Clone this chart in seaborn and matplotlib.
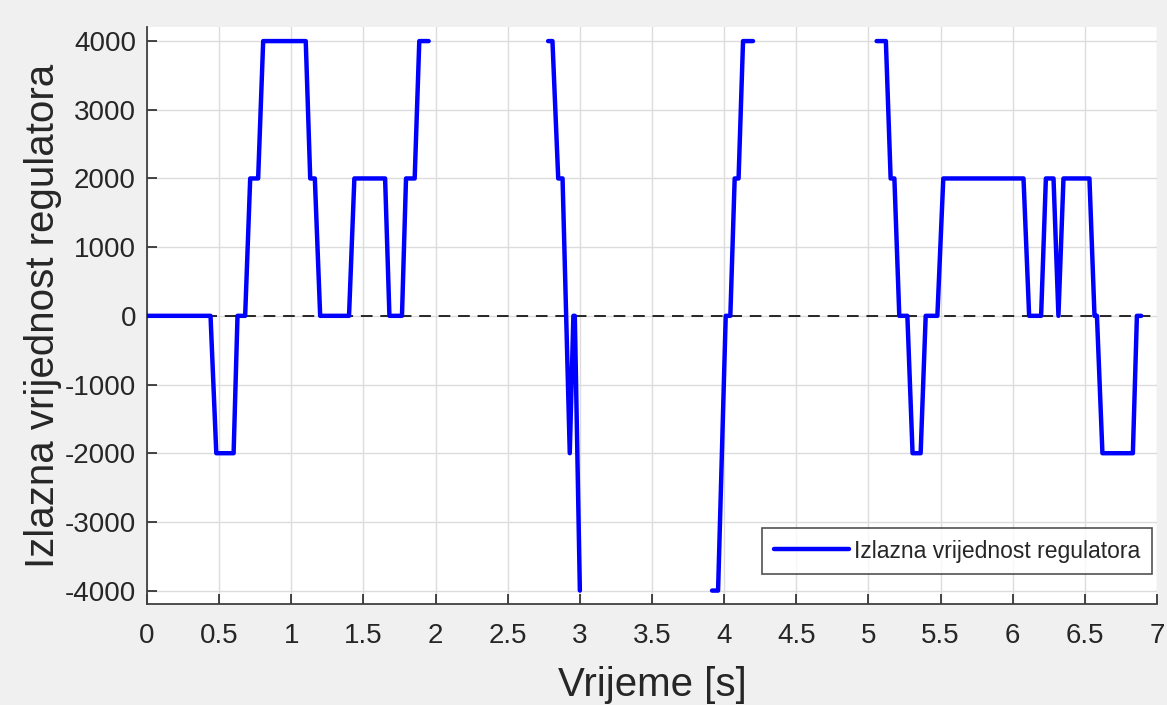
import numpy as np
import pandas as pd
import matplotlib
matplotlib.use("Agg")
import matplotlib.pyplot as plt
import seaborn as sns

# controller output (gaps = nan)
t = [0.0, 0.44, 0.48, 0.60, 0.627, 0.68, 0.715, 0.77, 0.805, 1.10, 1.131, 1.163,
     1.20, 1.40, 1.437, 1.65, 1.68, 1.767, 1.795, 1.855, 1.887, 1.952, np.nan,
     2.78, 2.81, 2.85, 2.88, 2.93, 2.955, 2.965, 3.0, np.nan,
     3.916, 3.958, 4.011, 4.043, 4.073, 4.10, 4.131, 4.20, np.nan,
     5.057, 5.121, 5.154, 5.18, 5.214, 5.27, 5.306, 5.362, 5.397, 5.478, 5.519,
     6.075, 6.114, 6.197, 6.23, 6.283, 6.317, 6.352, 6.532, 6.567, 6.584, 6.622,
     6.833, 6.861, 6.891]
u = [0, 0, -2000, -2000, 0, 0, 2000, 2000, 4000, 4000, 2000, 2000,
     0, 0, 2000, 2000, 0, 0, 2000, 2000, 4000, 4000, np.nan,
     4000, 4000, 2000, 2000, -2000, 0, 0, -4000, np.nan,
     -4000, -4000, 0, 0, 2000, 2000, 4000, 4000, np.nan,
     4000, 4000, 2000, 2000, 0, 0, -2000, -2000, 0, 0, 2000,
     2000, 0, 0, 2000, 2000, 0, 2000, 2000, 0, 0, -2000,
     -2000, 0, 0]

x_ticks = np.arange(0, 7.5, 0.5)
x_ticklabels = ["0", "0.5", "1", "1.5", "2", "2.5", "3", "3.5", "4", "4.5", "5", "5.5", "6", "6.5", "7"]
y_ticks = np.arange(-4000, 4001, 1000)

df = pd.DataFrame({"t": t, "u": u})
df["seg"] = df["u"].isna().cumsum()
df = df.dropna()

sns.set_style("white")
plt.rcParams["font.family"] = ["Liberation Sans", "DejaVu Sans"]
plt.rcParams["axes.unicode_minus"] = False

fig = plt.figure(figsize=(11.67, 7.05), dpi=100, facecolor="#f0f0f0")
ax = fig.add_axes([0.126, 0.1433, 0.8654, 0.8184])
ax.set_facecolor("white")

ax.axhline(0, color="#262626", lw=1.4, ls=(0, (6, 4)), zorder=2)

first = True
for seg, part in df.groupby("seg"):
    sns.lineplot(data=part, x="t", y="u", ax=ax, color="#0000ff", lw=3.2,
                 estimator=None, sort=False,
                 label="Izlazna vrijednost regulatora" if first else None,
                 legend=first, zorder=3)
    first = False

ax.set_xlim(0, 7)
ax.set_ylim(-4195, 4205)
ax.set_xticks(x_ticks)
ax.set_xticklabels(x_ticklabels)
ax.set_yticks(y_ticks)
ax.grid(True, color="#dcdcdc", lw=1)
ax.set_axisbelow(True)
ax.tick_params(bottom=True, left=True, direction="in", length=7, width=1.2,
               colors="#262626", labelsize=20)
ax.tick_params(axis="x", pad=14)
ax.tick_params(axis="y", pad=8)
for s in ["top", "right"]:
    ax.spines[s].set_visible(False)
for s in ["left", "bottom"]:
    ax.spines[s].set_color("#404040")
    ax.spines[s].set_linewidth(1.3)

ax.set_xlabel("Vrijeme [s]", fontsize=29, color="#262626", labelpad=12)
ax.set_ylabel("Izlazna vrijednost regulatora", fontsize=29, color="#262626", labelpad=2)

leg = ax.legend(loc="lower right", bbox_to_anchor=(0.9947, 0.052), fontsize=16.5,
                frameon=True, fancybox=False, edgecolor="#262626",
                handlelength=3.3, handletextpad=0.2, borderpad=0.5,
                borderaxespad=0)
leg.get_frame().set_linewidth(1.2)

fig.savefig("out.png", dpi=100, facecolor=fig.get_facecolor())
